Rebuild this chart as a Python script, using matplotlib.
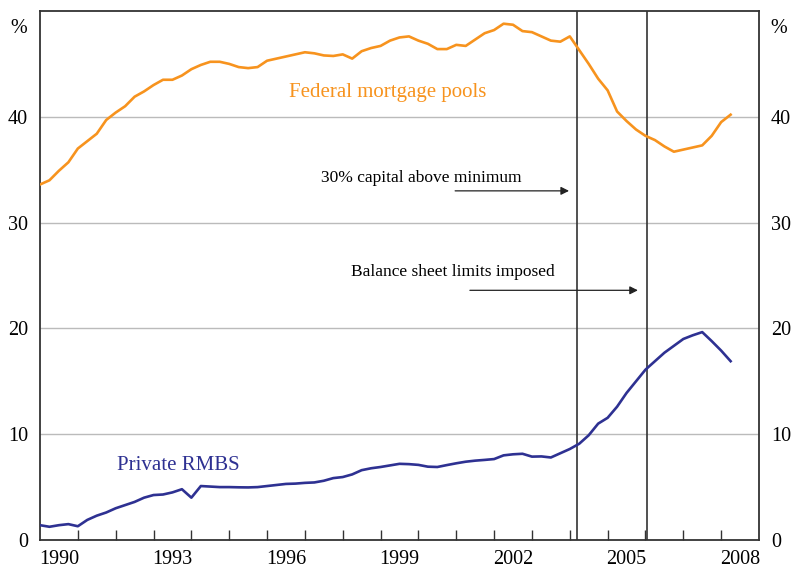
import matplotlib
matplotlib.use("Agg")
import matplotlib.pyplot as plt
import numpy as np

plt.rcParams['font.family'] = ['Liberation Serif', 'DejaVu Serif']

# Quarterly data starting 1990 Q1
start_year = 1990.0
federal_pools = [33.6, 34.0, 34.9, 35.7, 37.0, 37.7, 38.4, 39.7, 40.4, 41.0,
                 41.9, 42.4, 43.0, 43.5, 43.5, 43.9, 44.5, 44.9, 45.2, 45.2,
                 45.0, 44.7, 44.6, 44.7, 45.3, 45.5, 45.7, 45.9, 46.1, 46.0,
                 45.8, 45.75, 45.9, 45.5, 46.2, 46.5, 46.7, 47.2, 47.5, 47.6,
                 47.2, 46.9, 46.4, 46.4, 46.8, 46.7, 47.3, 47.9, 48.2, 48.8,
                 48.7, 48.1, 48.0, 47.6, 47.2, 47.1, 47.6, 46.3, 45.0, 43.6,
                 42.5, 40.5, 39.6, 38.8, 38.2, 37.8, 37.2, 36.7, 36.9, 37.1,
                 37.3, 38.2, 39.5, 40.2]
private_rmbs = [1.4, 1.25, 1.4, 1.5, 1.3, 1.9, 2.3, 2.6, 3.0, 3.3,
                3.6, 4.0, 4.25, 4.3, 4.5, 4.8, 4.0, 5.1, 5.05, 5.0,
                5.0, 4.98, 4.97, 5.0, 5.1, 5.2, 5.3, 5.33, 5.4, 5.44,
                5.6, 5.85, 5.95, 6.2, 6.6, 6.78, 6.9, 7.05, 7.2, 7.17,
                7.1, 6.93, 6.9, 7.08, 7.25, 7.4, 7.5, 7.57, 7.65, 8.0,
                8.1, 8.15, 7.88, 7.9, 7.8, 8.2, 8.6, 9.1, 9.9, 11.0,
                11.55, 12.6, 13.9, 15.0, 16.1, 16.9, 17.7, 18.35, 19.0, 19.35,
                19.65, 18.8, 17.9, 16.9]
event_years = [2004.2, 2006.05]
event_labels = ["30% capital above minimum", "Balance sheet limits imposed"]
year_labels = [1990, 1993, 1996, 1999, 2002, 2005, 2008]
y_ticks = [0, 10, 20, 30, 40]

x = start_year + 0.25 * np.arange(len(federal_pools))

fig = plt.figure(figsize=(7.92, 5.71), dpi=100)
ax = fig.add_axes([40/792, 1-540/571, 719/792, 529/571])

orange = '#F7931E'
blue = '#2E3192'

for yv in y_ticks[1:]:
    ax.axhline(yv, color='#BBBBBB', lw=1.0, zorder=1)

for ev in event_years:
    ax.axvline(ev, color='#333333', lw=1.2, zorder=2)

ax.plot(x, federal_pools, color=orange, lw=1.9, zorder=3, solid_joinstyle='round')
ax.plot(x, private_rmbs, color=blue, lw=1.9, zorder=3, solid_joinstyle='round')

ax.set_xlim(1990, 2009)
ax.set_ylim(0, 50)

# Year ticks (inward, unlabeled) and labels at mid-year
ax.set_xticks(np.arange(1991, 2009))
ax.set_xticklabels([])
ax.tick_params(axis='x', which='major', direction='in', length=7, width=1.0,
               color='#333333')
ax.set_xticks([yr + 0.5 for yr in year_labels], minor=True)
ax.set_xticklabels([str(yr) for yr in year_labels], minor=True)
ax.tick_params(axis='x', which='minor', length=0, pad=7, labelsize=14.5)

ax.set_yticks(y_ticks)
ax.set_yticklabels([str(v) for v in y_ticks])
ax.tick_params(axis='y', which='both', length=0, pad=8.5, labelsize=14.5,
               left=True, right=True, labelleft=True, labelright=True)

for s in ax.spines.values():
    s.set_color('#333333')
    s.set_linewidth(1.3)

# % labels
ax.text(-0.03, 0.985, '%', transform=ax.transAxes, ha='center', va='top', fontsize=14.5)
ax.text(1.028, 0.985, '%', transform=ax.transAxes, ha='center', va='top', fontsize=14.5)

# Series labels
ax.text(1999.2, 42.3, 'Federal mortgage pools', color=orange, fontsize=15,
        ha='center', va='center')
ax.text(1993.65, 7.0, 'Private RMBS', color=blue, fontsize=15,
        ha='center', va='center')

# Event annotations
ax.text(2000.07, 34.2, event_labels[0], fontsize=12.5, ha='center', va='center')
ax.annotate('', xy=(event_years[0] - 0.22, 33.0), xytext=(2000.97, 33.0),
            arrowprops=dict(arrowstyle='-|>', color='#222222', lw=0.9,
                            mutation_scale=12, shrinkA=0, shrinkB=0))
ax.text(2000.91, 25.3, event_labels[1], fontsize=12.5, ha='center', va='center')
ax.annotate('', xy=(event_years[1] - 0.25, 23.6), xytext=(2001.36, 23.6),
            arrowprops=dict(arrowstyle='-|>', color='#222222', lw=0.9,
                            mutation_scale=12, shrinkA=0, shrinkB=0))

fig.savefig('out.png', dpi=100)
